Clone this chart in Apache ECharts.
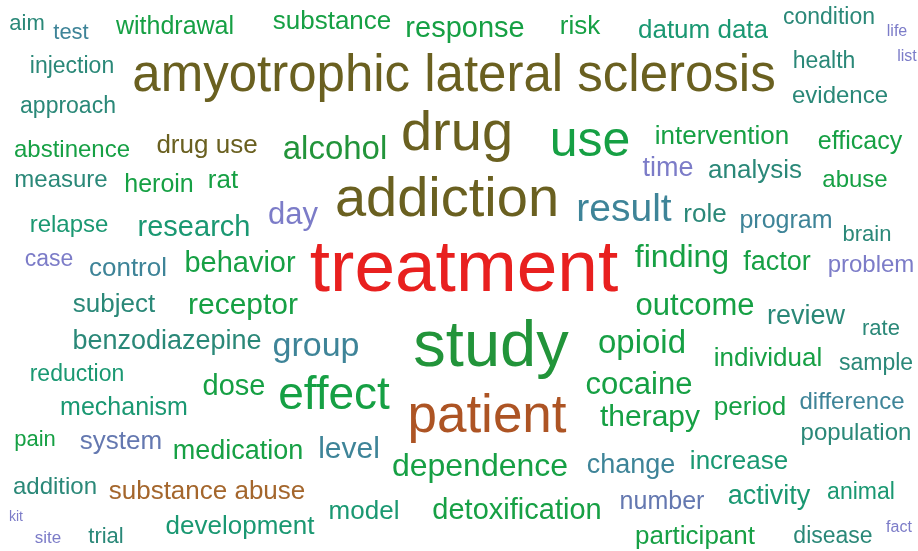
<!DOCTYPE html>
<html>
<head>
<meta charset="utf-8" />
<script src="https://cdn.jsdelivr.net/npm/echarts@6/dist/echarts.min.js"></script>
<style>
  html, body { margin: 0; padding: 0; background: #fff; }
  #chart { width: 918px; height: 551px; }
</style>
</head>
<body>
<div id="chart"></div>
<script>
// term list and frequencies
const words = [
  'aim', 'test', 'withdrawal', 'substance', 'response', 'risk', 'datum data', 'condition', 'life', 'list',
  'injection', 'amyotrophic lateral sclerosis', 'health', 'evidence', 'approach', 'abstinence', 'drug use', 'alcohol', 'drug', 'use',
  'intervention', 'efficacy', 'time', 'analysis', 'abuse', 'measure', 'heroin', 'rat', 'addiction', 'result',
  'role', 'program', 'brain', 'relapse', 'research', 'day', 'case', 'control', 'behavior', 'treatment',
  'finding', 'factor', 'problem', 'subject', 'receptor', 'outcome', 'review', 'rate', 'benzodiazepine', 'group',
  'study', 'opioid', 'individual', 'sample', 'reduction', 'dose', 'effect', 'patient', 'cocaine', 'mechanism',
  'period', 'difference', 'pain', 'system', 'medication', 'level', 'therapy', 'population', 'dependence', 'change',
  'increase', 'addition', 'substance abuse', 'number', 'activity', 'animal', 'kit', 'site', 'trial', 'development',
  'model', 'detoxification', 'participant', 'disease', 'fact'
]
const counts = [
  220, 220, 250, 260, 290, 260, 260, 230, 160, 160,
  230, 510, 230, 235, 230, 240, 260, 330, 560, 500,
  260, 250, 270, 260, 240, 240, 250, 260, 560, 390,
  260, 250, 220, 240, 290, 310, 230, 260, 290, 730,
  320, 270, 240, 260, 300, 310, 270, 220, 270, 340,
  650, 330, 260, 230, 230, 290, 460, 530, 310, 250,
  260, 240, 220, 260, 270, 300, 300, 235, 320, 270,
  260, 240, 260, 245, 270, 230, 140, 170, 220, 255,
  260, 290, 260, 230, 160
]

// word cloud placement (centre of each word, page pixels)
const placeX = [
  27, 71, 175, 332, 465, 580, 703, 829, 897, 907,
  72, 454, 824, 840, 68, 72, 207, 335, 457, 590,
  722, 860, 668, 755, 855, 61, 159, 223, 447, 624,
  705, 786, 867, 69, 194, 293, 49, 128, 240, 464,
  682, 777, 871, 114, 243, 695, 806, 881, 167, 316,
  491, 642, 768, 876, 77, 234, 334, 487, 639, 124,
  750, 852, 35, 121, 238, 349, 650, 856, 480, 631,
  739, 55, 207, 662, 769, 861, 16, 48, 106, 240,
  364, 517, 695, 833, 899
]
const placeY = [
  22, 31, 24, 19, 26, 24, 28, 16, 30, 55,
  65, 72, 60, 94, 105, 148, 143, 147, 129, 137,
  134, 139, 166, 168, 178, 178, 182, 178, 195, 206,
  212, 218, 233, 223, 225, 212, 258, 266, 261, 264,
  255, 260, 263, 302, 303, 303, 314, 327, 339, 344,
  341, 341, 356, 362, 373, 384, 391, 412, 382, 405,
  405, 400, 438, 439, 449, 447, 415, 431, 464, 463,
  459, 485, 489, 499, 494, 491, 516, 536, 535, 524,
  509, 508, 534, 535, 526
]

// colour group of each word
const tones = [
  7, 8, 4, 4, 4, 4, 6, 7, 10, 10,
  7, 1, 7, 7, 7, 4, 1, 5, 1, 4,
  4, 4, 10, 7, 4, 7, 4, 4, 1, 8,
  7, 8, 7, 6, 6, 10, 10, 8, 4, 0,
  4, 4, 10, 7, 4, 4, 7, 7, 7, 8,
  5, 4, 4, 7, 6, 4, 4, 2, 4, 6,
  4, 8, 4, 9, 4, 8, 4, 7, 4, 8,
  6, 7, 3, 9, 6, 6, 10, 10, 7, 6,
  6, 4, 4, 7, 10
]
const palette = [
  '#e8201f', '#6a6020', '#ad5424', '#a4662c', '#16a044', '#22943a',
  '#1a9872', '#2a8878', '#3e8498', '#6478b0', '#7c7cc8'
]

const chart = echarts.init(document.getElementById('chart'))

const seriesData = words.map((w, i) => {
  const size = Math.round(counts[i] / 10)
  return {
    name: w,
    value: [placeX[i], placeY[i], counts[i]],
    label: {
      fontSize: size,
      color: palette[tones[i]],
      offset: [0, Math.round(size * 0.1)], // canvas 'middle' sits a bit high
    },
  }
})

chart.setOption({
  animation: false,
  backgroundColor: '#fff',
  grid: { left: 0, right: 0, top: 0, bottom: 0 },
  xAxis: { type: 'value', min: 0, max: 918, show: false },
  yAxis: { type: 'value', min: 0, max: 551, inverse: true, show: false },
  series: [
    {
      type: 'scatter',
      data: seriesData,
      symbolSize: 1,
      itemStyle: { color: 'transparent', opacity: 1 },
      label: {
        show: true,
        position: 'inside',
        align: 'center',
        verticalAlign: 'middle',
        fontFamily: 'Liberation Sans, Arial, sans-serif',
        formatter: p => p.name,
      },
      emphasis: { disabled: true },
    },
  ],
})
</script>
</body>
</html>
